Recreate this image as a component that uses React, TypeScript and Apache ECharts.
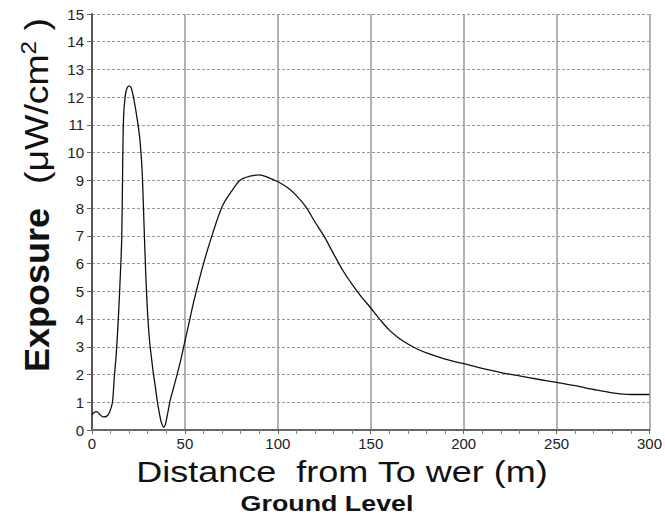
import React, { useEffect, useRef } from "react";
import * as echarts from "echarts";

const distances = [0, 1, 2.5, 4, 6, 8, 9.5, 11, 12, 13, 14, 15, 16, 16.5, 17, 18, 19, 20, 21, 22, 23, 24, 25, 26, 27, 28, 29, 30, 31, 32, 33, 34, 35, 36, 37, 38, 38.6, 39.5, 41, 42, 44, 46, 48, 50, 52, 55, 60, 65, 70, 75, 80, 85, 90, 95, 100, 105, 110, 115, 120, 125, 130, 135, 140, 145, 150, 155, 160, 165, 170, 175, 180, 190, 200, 210, 220, 230, 240, 250, 260, 270, 280, 290, 300];
const exposure = [0.55, 0.62, 0.66, 0.58, 0.47, 0.5, 0.65, 1.0, 1.9, 2.7, 3.8, 5.2, 6.9, 9.5, 11.3, 12.1, 12.35, 12.4, 12.35, 12.1, 11.75, 11.35, 10.9, 10.3, 9.3, 7.4, 5.5, 4.1, 3.2, 2.6, 2.05, 1.6, 1.1, 0.7, 0.35, 0.15, 0.1, 0.2, 0.7, 1.05, 1.55, 2.05, 2.6, 3.2, 3.8, 4.7, 6.0, 7.1, 8.05, 8.6, 9.02, 9.15, 9.2, 9.1, 8.95, 8.75, 8.45, 8.05, 7.5, 6.97, 6.35, 5.75, 5.25, 4.8, 4.4, 3.98, 3.6, 3.32, 3.1, 2.92, 2.78, 2.56, 2.39, 2.22, 2.07, 1.95, 1.83, 1.72, 1.6, 1.46, 1.34, 1.28, 1.28];

const FONT = "Liberation Sans, Arial";

export default function App() {
  const ref = useRef<HTMLDivElement>(null);
  useEffect(() => {
    const chart = echarts.init(ref.current!, null, { renderer: "svg" });
    chart.setOption({
      animation: false,
      backgroundColor: "#fff",
      grid: { left: 92, right: 15, top: 14, bottom: 87 },
      xAxis: {
        type: "value",
        min: 0,
        max: 300,
        interval: 50,
        axisLine: { show: true, lineStyle: { color: "#666", width: 2 } },
        axisTick: { show: true, length: 4, lineStyle: { color: "#666" } },
        minorTick: { show: true, splitNumber: 5, length: 4, lineStyle: { color: "#888" } },
        axisLabel: { color: "#222", fontSize: 15, fontFamily: FONT, margin: 6 },
        splitLine: { show: true, lineStyle: { color: "#999", width: 1.5 } },
      },
      yAxis: {
        type: "value",
        min: 0,
        max: 15,
        interval: 1,
        axisLine: { show: true, lineStyle: { color: "#555", width: 2 } },
        axisTick: { show: true, length: 5, lineStyle: { color: "#666" } },
        axisLabel: { color: "#222", fontSize: 15, fontFamily: FONT, margin: 8 },
        splitLine: { show: true, lineStyle: { color: "#999", width: 1, type: [3, 2] } },
      },
      series: [
        {
          type: "line",
          data: distances.map((d, i) => [d, exposure[i]]),
          smooth: 0.3,
          showSymbol: false,
          lineStyle: { color: "#111", width: 1.3 },
        },
      ],
      graphic: [
        {
          type: "text",
          x: 37,
          y: 290,
          rotation: Math.PI / 2,
          scaleX: 1.03,
          style: {
            text: "Exposure",
            align: "center",
            verticalAlign: "middle",
            fontSize: 35,
            fontWeight: "bold",
            fontFamily: FONT,
            fill: "#111",
          },
        },
        {
          type: "text",
          x: 37,
          y: 101,
          rotation: Math.PI / 2,
          scaleX: 1.1,
          style: {
            text: "{r|(μW/cm}{s|2}{r| )}",
            align: "center",
            verticalAlign: "middle",
            rich: {
              r: { fontSize: 34, fontFamily: FONT, fill: "#111" },
              s: { fontSize: 22, fontFamily: FONT, fill: "#111", verticalAlign: "top", padding: [0, 0, 18, 0] },
            },
          },
        },
        {
          type: "text",
          x: 342,
          y: 472,
          scaleX: 1.2,
          style: {
            text: "Distance  from To wer (m)",
            align: "center",
            verticalAlign: "middle",
            fontSize: 30,
            fontFamily: FONT,
            fill: "#111",
          },
        },
        {
          type: "text",
          x: 327,
          y: 503,
          scaleX: 1.22,
          style: {
            text: "Ground Level",
            align: "center",
            verticalAlign: "middle",
            fontSize: 22,
            lineHeight: 22,
            fontWeight: "bold",
            fontFamily: FONT,
            fill: "#111",
          },
        },
      ],
    });
    return () => chart.dispose();
  }, []);
  return <div ref={ref} style={{ width: 665, height: 517, position: "absolute", left: 0, top: 0 }} />;
}
